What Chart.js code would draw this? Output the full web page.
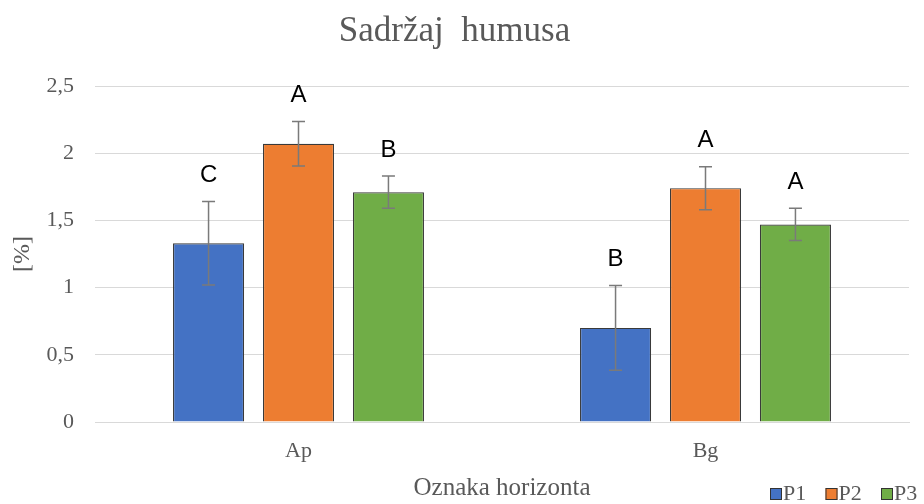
<!DOCTYPE html>
<html>
<head>
<meta charset="utf-8">
<script src="https://cdn.jsdelivr.net/npm/chart.js@4"></script>
<style>
html,body{margin:0;padding:0;background:#fff;overflow:hidden;}
#wrap{width:924px;height:504px;position:relative;}
</style>
</head>
<body>
<div id="wrap"><canvas id="c" width="924" height="504"></canvas></div>
<script>
const categories = ['Ap', 'Bg'];
const seriesNames = ['P1', 'P2', 'P3'];
const p1Values = [1.33, 0.70];
const p2Values = [2.07, 1.74];
const p3Values = [1.71, 1.47];
const p1Errors = [0.31, 0.315];
const p2Errors = [0.165, 0.16];
const p3Errors = [0.12, 0.12];
const p1Letters = ['C', 'B'];
const p2Letters = ['A', 'A'];
const p3Letters = ['B', 'A'];
const yTicks = [0, 0.5, 1, 1.5, 2, 2.5];

const colors = ['#4472C4', '#ED7D31', '#70AD47'];
const values = [p1Values, p2Values, p3Values];
const errors = [p1Errors, p2Errors, p3Errors];
const letters = [p1Letters, p2Letters, p3Letters];

const serif = "'Liberation Serif', 'Times New Roman', serif";
const textGray = '#595959';

const errorPlugin = {
  id: 'errorLetters',
  afterDatasetsDraw(chart) {
    const ctx = chart.ctx;
    const y = chart.scales.y;
    chart.data.datasets.forEach((ds, di) => {
      const meta = chart.getDatasetMeta(di);
      meta.data.forEach((bar, i) => {
        const v = values[di][i], e = errors[di][i];
        const yt = y.getPixelForValue(v + e);
        const yb = y.getPixelForValue(v - e);
        const x = bar.x;
        ctx.save();
        ctx.strokeStyle = '#7a7a7a';
        ctx.lineWidth = 1.5;
        ctx.beginPath();
        ctx.moveTo(x, yt); ctx.lineTo(x, yb);
        ctx.moveTo(x - 6.5, yt); ctx.lineTo(x + 6.5, yt);
        ctx.moveTo(x - 6.5, yb); ctx.lineTo(x + 6.5, yb);
        ctx.stroke();
        ctx.fillStyle = '#000';
        ctx.font = "24px 'Liberation Sans', Arial, sans-serif";
        ctx.textAlign = 'center';
        ctx.textBaseline = 'middle';
        ctx.fillText(letters[di][i], x, yt - 26);
        ctx.restore();
      });
    });
  }
};

const legendPlugin = {
  id: 'customLegend',
  afterDraw(chart) {
    const ctx = chart.ctx;
    ctx.save();
    ctx.font = "22px " + serif;
    ctx.textBaseline = 'middle';
    ctx.textAlign = 'left';
    const cy = 494;
    seriesNames.forEach((name, i) => {
      const bx = 770 + i * 55.5;
      ctx.fillStyle = colors[i];
      ctx.fillRect(bx, cy - 6, 12, 12);
      ctx.strokeStyle = '#333';
      ctx.lineWidth = 1;
      ctx.strokeRect(bx + 0.5, cy - 5.5, 11, 11);
      ctx.fillStyle = textGray;
      ctx.fillText(name, bx + 13, cy);
    });
    ctx.restore();
  }
};

new Chart(document.getElementById('c'), {
  type: 'bar',
  data: {
    labels: categories,
    datasets: seriesNames.map((n, i) => ({
      label: n,
      data: values[i],
      backgroundColor: colors[i],
      borderColor: '#3a3a3a',
      borderWidth: 1.2,
      borderSkipped: 'bottom',
      barPercentage: 0.79,
      categoryPercentage: 0.663
    }))
  },
  options: {
    responsive: false,
    animation: false,
    devicePixelRatio: 1,
    layout: { padding: { left: 0, right: 15, top: 0, bottom: 0 } },
    plugins: {
      legend: { display: false },
      tooltip: { enabled: false },
      title: {
        display: true,
        text: 'Sadržaj  humusa',
        color: textGray,
        font: { family: serif, size: 35, weight: 'normal', lineHeight: 1.2 },
        padding: { top: 11, bottom: 33 }
      }
    },
    scales: {
      x: {
        grid: { display: false, drawTicks: false },
        border: { display: true, color: '#d9d9d9', width: 1 },
        ticks: { color: textGray, font: { family: serif, size: 22 }, padding: 16 },
        title: {
          display: true, text: 'Oznaka horizonta', color: textGray,
          font: { family: serif, size: 25 }, padding: { top: 0, bottom: 1 }
        },
        afterFit(s) { s.height = 82; }
      },
      y: {
        min: 0, max: 2.5,
        afterBuildTicks(s) { s.ticks = yTicks.map(v => ({ value: v })); },
        grid: { color: '#d9d9d9', lineWidth: 1, drawTicks: false },
        border: { display: false },
        ticks: {
          color: textGray, font: { family: serif, size: 22 }, padding: 21,
          callback: v => String(v).replace('.', ',')
        },
        title: {
          display: true, text: '[%]', color: textGray,
          font: { family: serif, size: 24 }, padding: { top: 8, bottom: 0 }
        },
        afterFit(s) { s.width = 95; }
      }
    }
  },
  plugins: [errorPlugin, legendPlugin]
});
</script>
</body>
</html>
